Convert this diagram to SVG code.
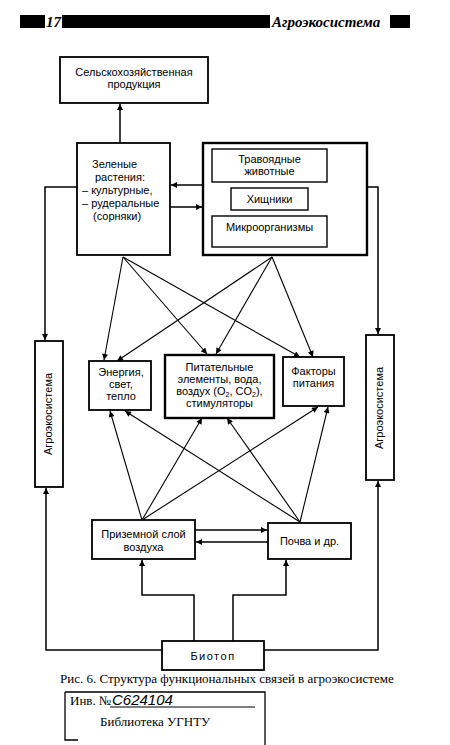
<svg xmlns="http://www.w3.org/2000/svg" width="450" height="745" viewBox="0 0 450 745">
<style>
  .bg{fill:#fff}
  .box{fill:#fff;stroke:#000;stroke-width:1.8}
  .boxt{fill:#fff;stroke:#000;stroke-width:2.4}
  .ibox{fill:#fff;stroke:#000;stroke-width:1.4}
  .t{font-family:"Liberation Sans",Arial,sans-serif;font-size:11px;fill:#000}
  .c{text-anchor:middle}
  .ln{fill:none;stroke:#000;stroke-width:1.5}
  .dl{fill:none;stroke:#000;stroke-width:1.1}
  .hdr{font-family:"Liberation Serif","Times New Roman",serif;font-weight:bold;font-style:italic;font-size:15px;fill:#000}
  .cap{font-family:"Liberation Serif","Times New Roman",serif;font-size:13px;fill:#000}
</style>
<defs>
  <marker id="a" viewBox="0 0 10 10" refX="10" refY="5" markerWidth="8" markerHeight="6" orient="auto" markerUnits="userSpaceOnUse">
    <path d="M0,0 L10,5 L0,10 z" fill="#000"/>
  </marker>
</defs>
<rect class="bg" x="0" y="0" width="450" height="745"/>

<g id="header">
  <rect x="20" y="15" width="25" height="13" fill="#000"/>
  <text class="hdr" x="46" y="27" font-size="14">17</text>
  <rect x="62" y="15" width="208" height="13" fill="#000"/>
  <text class="hdr" x="272" y="27">Агроэкосистема</text>
  <rect x="390" y="15" width="20" height="13" fill="#000"/>
</g>

<g id="connectors">
  <path class="ln" d="M120,143 V104" marker-end="url(#a)"/>
  <path class="ln" d="M203,185 H171" marker-end="url(#a)"/>
  <path class="ln" d="M170,207 H202" marker-end="url(#a)"/>
  <path class="ln" d="M77,187 H45 V340" marker-end="url(#a)"/>
  <path class="ln" d="M367,187 H378 V334" marker-end="url(#a)"/>
  <path class="dl" d="M123,257 L104,360" marker-end="url(#a)"/>
  <path class="dl" d="M123,257 L207,354" marker-end="url(#a)"/>
  <path class="dl" d="M123,257 L300,357" marker-end="url(#a)"/>
  <path class="dl" d="M272,257 L117,361" marker-end="url(#a)"/>
  <path class="dl" d="M272,257 L216,354" marker-end="url(#a)"/>
  <path class="dl" d="M272,257 L313,357" marker-end="url(#a)"/>
  <path class="dl" d="M142,520 L110,411" marker-end="url(#a)"/>
  <path class="dl" d="M142,520 L202,418" marker-end="url(#a)"/>
  <path class="dl" d="M142,520 L318,407" marker-end="url(#a)"/>
  <path class="dl" d="M300,522 L125,411" marker-end="url(#a)"/>
  <path class="dl" d="M300,522 L227,418" marker-end="url(#a)"/>
  <path class="dl" d="M300,522 L328,407" marker-end="url(#a)"/>
  <path class="ln" d="M195,530 H267" marker-end="url(#a)"/>
  <path class="ln" d="M268,542 H196" marker-end="url(#a)"/>
  <path class="ln" d="M194,641 V595 H142 V560" marker-end="url(#a)"/>
  <path class="ln" d="M233,641 V595 H286 V560" marker-end="url(#a)"/>
  <path class="ln" d="M162,650 H46 V488" marker-end="url(#a)"/>
  <path class="ln" d="M264,650 H378 V481" marker-end="url(#a)"/>
</g>

<g id="produce">
  <rect class="box" x="60" y="57" width="148" height="46"/>
  <text class="t c" x="134" y="76">Сельскохозяйственная</text>
  <text class="t c" x="134" y="88">продукция</text>
</g>

<g id="plants">
  <rect class="box" x="77" y="143" width="93" height="112"/>
  <text class="t" x="92" y="168">Зеленые</text>
  <text class="t" x="95" y="181">растения:</text>
  <text class="t" x="82" y="194">– культурные,</text>
  <text class="t" x="82" y="207">– рудеральные</text>
  <text class="t" x="93" y="220">(сорняки)</text>
</g>

<g id="biota">
  <rect class="boxt" x="203" y="143" width="164" height="112"/>
  <g id="herbivores">
    <rect class="ibox" x="212" y="149" width="115" height="33"/>
    <text class="t c" x="269.5" y="163">Травоядные</text>
    <text class="t c" x="269.5" y="175">животные</text>
  </g>
  <g id="predators">
    <rect class="ibox" x="231" y="188" width="77" height="22"/>
    <text class="t c" x="269.5" y="203">Хищники</text>
  </g>
  <g id="microbes">
    <rect class="ibox" x="212" y="216" width="115" height="31"/>
    <text class="t c" x="269.5" y="231">Микроорганизмы</text>
  </g>
</g>

<g id="agro-left">
  <rect class="box" x="35" y="341" width="28" height="146"/>
  <text class="t c" transform="translate(52,414) rotate(-90)">Агроэкосистема</text>
</g>

<g id="agro-right">
  <rect class="box" x="366" y="335" width="28" height="145"/>
  <text class="t c" transform="translate(383,408) rotate(-90)">Агроэкосистема</text>
</g>

<g id="energy">
  <rect class="box" x="89" y="361" width="62" height="49"/>
  <text class="t c" x="121" y="376">Энергия,</text>
  <text class="t c" x="121" y="388">свет,</text>
  <text class="t c" x="121" y="400">тепло</text>
</g>

<g id="nutrients">
  <rect class="boxt" x="165" y="355" width="109" height="63"/>
  <text class="t c" x="219.5" y="371">Питательные</text>
  <text class="t c" x="219.5" y="383">элементы, вода,</text>
  <text class="t c" x="219.5" y="395">воздух (O<tspan font-size="7" dy="2">2</tspan><tspan dy="-2">, CO</tspan><tspan font-size="7" dy="2">2</tspan><tspan dy="-2">),</tspan></text>
  <text class="t c" x="219.5" y="407">стимуляторы</text>
</g>

<g id="factors">
  <rect class="box" x="283" y="357" width="61" height="49"/>
  <text class="t c" x="313.5" y="375">Факторы</text>
  <text class="t c" x="313.5" y="387">питания</text>
</g>

<g id="air">
  <rect class="box" x="92" y="520" width="103" height="39"/>
  <text class="t c" x="143.5" y="538">Приземной слой</text>
  <text class="t c" x="143.5" y="551">воздуха</text>
</g>

<g id="soil">
  <rect class="box" x="268" y="523" width="83" height="36"/>
  <text class="t c" x="309.5" y="545">Почва и др.</text>
</g>

<g id="biotope">
  <rect class="box" x="162" y="641" width="102" height="29"/>
  <text class="t c" x="213" y="660" letter-spacing="1.5">Биотоп</text>
</g>

<text class="cap" x="60" y="683">Рис. 6. Структура функциональных связей в агроэкосистеме</text>

<g id="stamp">
  <path fill="none" stroke="#000" stroke-width="1.3" d="M65,692 H265 V745 M65,692 V740 H78"/>
  <path fill="none" stroke="#000" stroke-width="1" d="M110,707 H255"/>
  <text class="cap" x="70" y="705" font-size="11">Инв. №</text>
  <text x="112" y="705" font-family="Liberation Sans,Arial,sans-serif" font-size="15" font-style="italic">С624104</text>
  <text class="cap" x="100" y="726" font-size="12">Библиотека УГНТУ</text>
</g>
</svg>
